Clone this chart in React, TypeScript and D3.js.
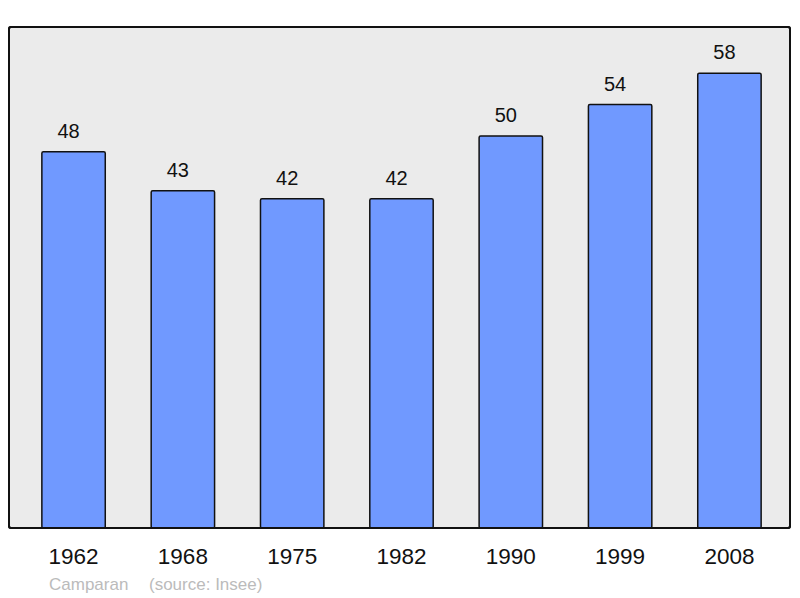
import React from "react";
import * as d3 from "d3";

const years = ["1962", "1968", "1975", "1982", "1990", "1999", "2008"];
const population = [48, 43, 42, 42, 50, 54, 58];
const footerName = "Camparan";
const footerSource = "(source: Insee)";

export default function App() {
  const W = 800, H = 598;
  const frame = { x: 9, y: 27, w: 781, h: 501 };
  const x = d3.scaleBand<string>().domain(years).range([20, 783]).paddingInner(0.42).paddingOuter(0.2);
  const y = d3.scaleLinear().domain([0, 63.9]).range([frame.y + frame.h, frame.y]);
  const font = "'Liberation Sans', Arial, sans-serif";
  return (
    <svg width={W} height={H} style={{ position: "absolute", left: 0, top: 0 }} fontFamily={font}>
      <rect x={0} y={0} width={W} height={H} fill="#ffffff" />
      <rect x={frame.x} y={frame.y} width={frame.w} height={frame.h} rx={2} fill="#ebebeb" stroke="#111" strokeWidth={2} />
      {years.map((yr, i) => {
        const v = population[i];
        const bx = x(yr)!;
        const by = y(v);
        return (
          <g key={yr}>
            <rect x={bx} y={by} width={x.bandwidth()} height={y(0) - by} rx={1.5} fill="#7099ff" stroke="#111" strokeWidth={1.5} />
            <text x={bx + x.bandwidth() / 2 - 5} y={by - 14} textAnchor="middle" fontSize={20} fill="#111">{v}</text>
            <text x={bx + x.bandwidth() / 2} y={564} textAnchor="middle" fontSize={22.5} fill="#111">{yr}</text>
          </g>
        );
      })}
      <rect x={frame.x} y={frame.y} width={frame.w} height={frame.h} rx={2} fill="none" stroke="#111" strokeWidth={2} />
      <text x={49} y={590} fontSize={17} fill="#bbbbbb">{footerName}</text>
      <text x={149} y={590} fontSize={17} fill="#bbbbbb">{footerSource}</text>
    </svg>
  );
}
